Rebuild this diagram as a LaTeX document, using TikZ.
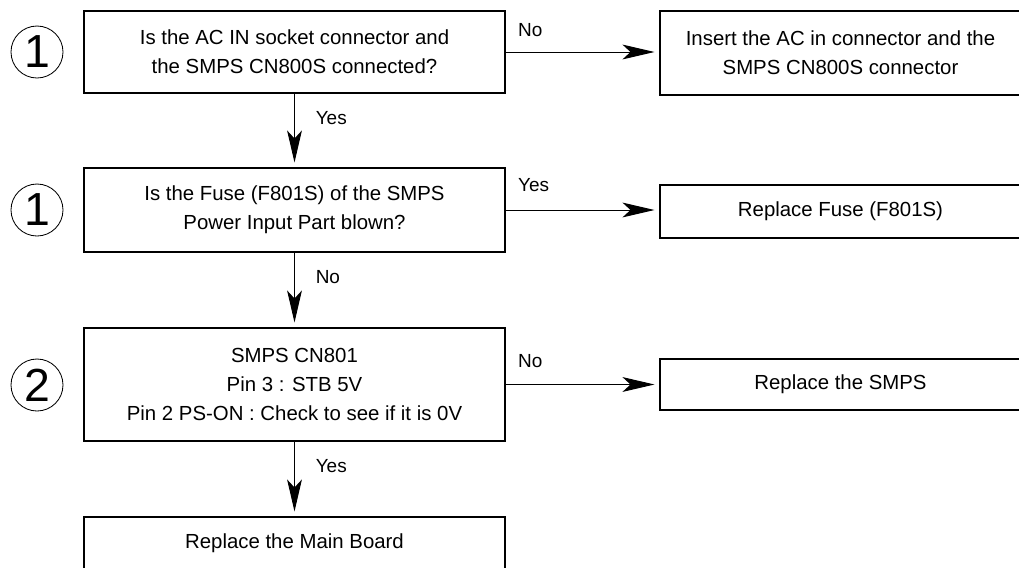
\documentclass[tikz,border=0pt]{standalone}
\usepackage{fontspec}
\setmainfont{Liberation Sans}
\usetikzlibrary{arrows.meta}
\tikzset{
  box/.style={draw, line width=1pt, align=center, inner sep=2pt,
    font=\fontsize{14.5}{20.5}\selectfont},
  numcirc/.style={draw, circle, line width=0.6pt, minimum size=1.3cm, inner sep=0pt,
    font=\fontsize{33}{33}\selectfont},
  lbl/.style={font=\fontsize{13.5}{16}\selectfont, inner sep=0pt},
  flow/.style={-{Stealth[length=0.8cm, width=0.37cm, inset=0.2cm]}, line width=0.7pt,
    shorten >=0.12cm}
}
\begin{document}
\begin{tikzpicture}
\useasboundingbox (0,0) rectangle (25.475,-14.2);
\clip (0,0) rectangle (25.475,-14.2);
% step numbers
\node[numcirc] (c1) at (0.925,-1.3) {1};
\node[numcirc] (c2) at (0.925,-5.25) {1};
\node[numcirc] (c3) at (0.925,-9.625) {2};
% checks
\node[box, minimum width=10.525cm, minimum height=2.05cm] (q1) at (7.3625,-1.3)
  {Is the AC IN socket connector and\\the SMPS CN800S connected?};
\node[box, minimum width=10.525cm, minimum height=2.1cm] (q2) at (7.3625,-5.25)
  {Is the Fuse (F801S) of the SMPS\\Power Input Part blown?};
\node[box, minimum width=10.525cm, minimum height=2.825cm] (q3) at (7.3625,-9.6125)
  {SMPS CN801\\Pin 3 : STB 5V\\Pin 2 PS-ON : Check to see if it is 0V};
\node[box, minimum width=10.525cm, minimum height=1.325cm] (q4) at (7.3625,-13.5875)
  {Replace the Main Board};
% actions
\node[box, minimum width=9.025cm, minimum height=2.1cm] (r1) at (21.0125,-1.325)
  {Insert the AC in connector and the\\SMPS CN800S connector};
\node[box, minimum width=9.025cm, minimum height=1.325cm] (r2) at (21.0125,-5.2875)
  {Replace Fuse (F801S)};
\node[box, minimum width=9.025cm, minimum height=1.275cm] (r3) at (21.0125,-9.6125)
  {Replace the SMPS};
% connectors
\draw[flow] (q1.east) -- (q1.east -| r1.west)
  node[lbl, pos=0, anchor=west, xshift=0.3cm, yshift=0.55cm] {No};
\draw[flow] (q2.east) -- (q2.east -| r2.west)
  node[lbl, pos=0, anchor=west, xshift=0.3cm, yshift=0.62cm] {Yes};
\draw[flow] (q3.east) -- (q3.east -| r3.west)
  node[lbl, pos=0, anchor=west, xshift=0.3cm, yshift=0.58cm] {No};
\draw[flow] (q1.south) -- (q2.north)
  node[lbl, pos=0, anchor=west, xshift=0.52cm, yshift=-0.6cm] {Yes};
\draw[flow] (q2.south) -- (q3.north)
  node[lbl, pos=0, anchor=west, xshift=0.52cm, yshift=-0.62cm] {No};
\draw[flow] (q3.south) -- (q4.north)
  node[lbl, pos=0, anchor=west, xshift=0.52cm, yshift=-0.6cm] {Yes};
\end{tikzpicture}
\end{document}
